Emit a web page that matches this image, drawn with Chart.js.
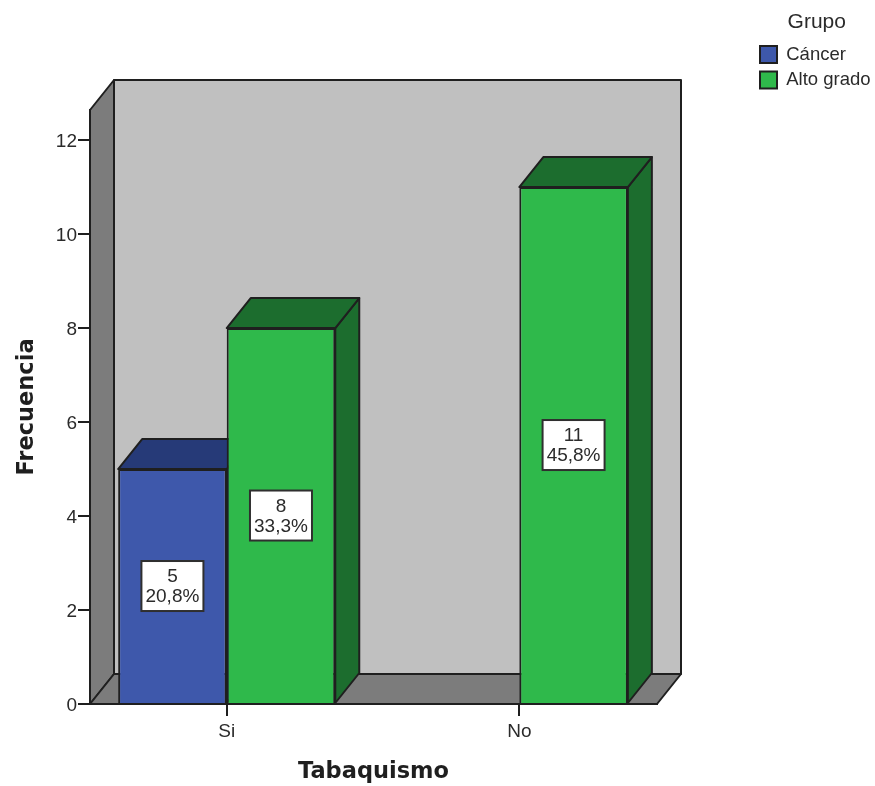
<!DOCTYPE html>
<html>
<head>
<meta charset="utf-8">
<title>Tabaquismo por grupo</title>
<style>
  html, body { margin: 0; padding: 0; background: #fff; }
  #wrap { position: relative; width: 875px; height: 786px; }
</style>
<script src="https://cdn.jsdelivr.net/npm/chart.js@4"></script>
</head>
<body>
<div id="wrap"><canvas id="chart" width="875" height="786"></canvas></div>
<script>
const categories = ['Si', 'No'];
const cancerCounts = [5, null];
const altoGradoCounts = [8, 11];
const cancerPercents = ['20,8%', null];
const altoGradoPercents = ['33,3%', '45,8%'];
const yTicks = [0, 2, 4, 6, 8, 10, 12];

const INK = '#1f1f1f';
const TEXT = '#2b2b2b';
const DEPTH_X = 24;
const DEPTH_Y = 30;
const BODY_FONT = 'Liberation Sans';
const TITLE_FONT = 'DejaVu Sans';

function polygon(ctx, pts, fill) {
  ctx.beginPath();
  pts.forEach((p, i) => i ? ctx.lineTo(p[0], p[1]) : ctx.moveTo(p[0], p[1]));
  ctx.closePath();
  ctx.fillStyle = fill;
  ctx.fill();
  ctx.stroke();
}

// Box walls behind the bars, plus the top and side faces of every bar.
const extrusion = {
  id: 'extrusion',
  beforeDatasetsDraw(chart) {
    const { ctx, chartArea: a } = chart;
    ctx.save();
    ctx.strokeStyle = INK;
    ctx.lineWidth = 2;
    ctx.lineJoin = 'round';
    const dx = DEPTH_X, dy = DEPTH_Y;
    polygon(ctx, [[a.left + dx, a.top - dy], [a.right + dx, a.top - dy],
                  [a.right + dx, a.bottom - dy], [a.left + dx, a.bottom - dy]], '#c0c0c0');
    polygon(ctx, [[a.left, a.top], [a.left + dx, a.top - dy],
                  [a.left + dx, a.bottom - dy], [a.left, a.bottom]], '#7c7c7c');
    polygon(ctx, [[a.left, a.bottom], [a.left + dx, a.bottom - dy],
                  [a.right + dx, a.bottom - dy], [a.right, a.bottom]], '#7c7c7c');

    chart.data.datasets.forEach((ds, di) => {
      chart.getDatasetMeta(di).data.forEach((bar, i) => {
        if (ds.data[i].y === null) return;
        const l = bar.x - bar.width / 2, r = bar.x + bar.width / 2;
        polygon(ctx, [[r, bar.y], [r + dx, bar.y - dy], [r + dx, bar.base - dy], [r, bar.base]], ds.shadeColor);
        polygon(ctx, [[l, bar.y], [l + dx, bar.y - dy], [r + dx, bar.y - dy], [r, bar.y]], ds.shadeColor);
      });
    });
    ctx.restore();
  },
  // Two-line value boxes centred on the bars.
  afterDatasetsDraw(chart) {
    const { ctx } = chart;
    ctx.save();
    ctx.textAlign = 'center';
    ctx.textBaseline = 'middle';
    ctx.font = '19px "' + BODY_FONT + '"';
    chart.data.datasets.forEach((ds, di) => {
      chart.getDatasetMeta(di).data.forEach((bar, i) => {
        const v = ds.data[i].y;
        if (v === null) return;
        const cy = (bar.y + bar.base) / 2;
        const w = 62, h = 50;
        ctx.fillStyle = '#fff';
        ctx.strokeStyle = '#2f2f2f';
        ctx.lineWidth = 2;
        ctx.fillRect(bar.x - w / 2, cy - h / 2, w, h);
        ctx.strokeRect(bar.x - w / 2, cy - h / 2, w, h);
        ctx.fillStyle = TEXT;
        ctx.fillText(String(v), bar.x, cy - 9);
        ctx.fillText(ds.percents[i], bar.x, cy + 11);
      });
    });
    ctx.restore();
  },
  // The legend sits in the top right corner, away from the plot box.
  afterLayout(chart) {
    const lg = chart.legend;
    const w = lg.width, h = lg.height;
    lg.left = 753; lg.top = 6;
    lg.right = lg.left + w; lg.bottom = lg.top + h;
    lg.adjustHitBoxes();
  }
};

const toPoints = (values) => values.map((y, x) => ({ x, y }));

new Chart(document.getElementById('chart'), {
  type: 'bar',
  plugins: [extrusion],
  data: {
    datasets: [
      { label: 'Cáncer', data: toPoints(cancerCounts), percents: cancerPercents,
        backgroundColor: '#3e58ab', shadeColor: '#263a78', borderColor: INK, borderWidth: 2 },
      { label: 'Alto grado', data: toPoints(altoGradoCounts), percents: altoGradoPercents,
        backgroundColor: '#2fb94b', shadeColor: '#1c6d2e', borderColor: INK, borderWidth: 2 }
    ]
  },
  options: {
    responsive: false,
    animation: false,
    layout: { padding: { top: 110, right: 218, left: 0, bottom: 0 } },
    datasets: { bar: { categoryPercentage: 0.742, barPercentage: 1 } },
    plugins: {
      tooltip: { enabled: false },
      legend: {
        position: 'chartArea',
        align: 'start',
        title: { display: true, text: 'Grupo', color: TEXT, font: { family: BODY_FONT, size: 21 }, padding: { top: 6, bottom: 1 } },
        labels: { boxWidth: 17, boxHeight: 17, padding: 7, color: TEXT, font: { family: BODY_FONT, size: 18.5 } }
      }
    },
    scales: {
      x: {
        type: 'linear',
        offset: false,
        min: -0.4672,
        max: 1.4706,
        afterBuildTicks(scale) { scale.ticks = categories.map((_, value) => ({ value })); },
        afterFit(scale) { scale.height = 82; },
        grid: { offset: false, drawOnChartArea: false, drawTicks: true, tickLength: 12, color: INK, lineWidth: 2 },
        border: { color: INK, width: 2 },
        ticks: {
          autoSkip: false, maxRotation: 0, padding: 4, color: TEXT,
          font: { family: BODY_FONT, size: 19 },
          callback: (v) => categories[v]
        },
        title: { display: true, text: 'Tabaquismo', color: INK, font: { family: TITLE_FONT, size: 22.5, weight: 'bold' }, padding: { top: 14, bottom: 0 } }
      },
      y: {
        min: 0,
        max: 12.64,
        afterBuildTicks(scale) { scale.ticks = yTicks.map((value) => ({ value })); },
        afterFit(scale) { scale.width = 90; },
        grid: { drawOnChartArea: false, drawTicks: true, tickLength: 12, color: INK, lineWidth: 2 },
        border: { color: INK, width: 2 },
        ticks: { padding: 1, labelOffset: 2, color: TEXT, font: { family: BODY_FONT, size: 19 } },
        title: { display: true, text: 'Frecuencia', color: INK, font: { family: TITLE_FONT, size: 22.5, weight: 'bold' }, padding: { top: 14, bottom: 0 } }
      }
    }
  }
});
</script>
</body>
</html>
